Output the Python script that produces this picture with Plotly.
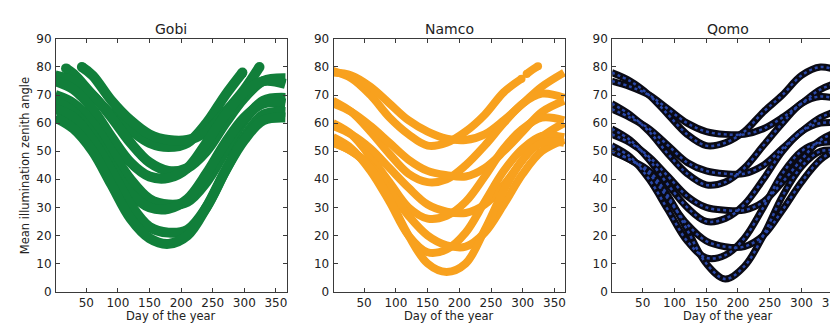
import plotly.graph_objects as go

# ---------------- data ----------------
DAYS = [1, 30, 60, 90, 120, 150, 180, 210, 240, 270, 300, 330, 365]

panel_titles = ["Gobi", "Namco", "Qomo"]

# Gobi: two truncated curves (own day grids) + six full-year curves
gobi_g1_days = [18, 30, 60, 90, 120, 150, 180, 210, 240, 270, 297]
gobi_g1 = [79.5, 77.5, 70, 63, 57.5, 53, 51.5, 53, 60, 70, 78]
gobi_g2_days = [43, 60, 90, 120, 150, 180, 210, 240, 270, 300, 324]
gobi_g2 = [80, 77, 68, 61, 56, 54, 54, 57, 64, 72, 80]
gobi_g3 = [77, 75, 70, 62, 53, 46, 43, 44, 50, 60, 69, 75, 76]
gobi_g4 = [75, 72, 65, 55, 46, 41, 40.5, 44, 53, 63, 71, 75, 74]
gobi_g5 = [70, 67, 60, 50, 40, 33, 31, 32, 39, 50, 61, 68, 69]
gobi_g6 = [68, 64, 56, 45, 35, 30, 29.5, 33, 42, 53, 62, 67, 67]
gobi_g7 = [65, 62, 54, 43, 31, 23, 21, 22, 30, 43, 55, 63, 64]
gobi_g8 = [62, 58, 50, 38, 26, 19, 17, 20, 30, 43, 54, 61, 62]

# Namco: first curve has a short gap near day 300 and stops at day 324
namco_n1a_days = [1, 30, 60, 90, 120, 150, 180, 210, 240, 270, 298]
namco_n1a = [78.5, 76, 70, 62, 56, 52, 53, 57, 63, 71, 75.8]
namco_n1b_days = [306, 315, 324]
namco_n1b = [77.5, 79, 80.3]
namco_n2 = [78, 77, 73, 67, 61, 57, 54.5, 54, 56, 61, 67, 73, 78]
namco_n3 = [68, 64, 57, 49, 42, 39, 40, 45, 52, 60, 67, 70.5, 69]
namco_n4 = [67, 64, 59, 53, 47, 43, 41.5, 41, 44, 50, 57, 64, 68]
namco_n5 = [60, 56, 48, 39, 30, 26, 27, 32, 41, 51, 58, 62, 61]
namco_n6 = [59, 56, 51, 44, 37, 31, 28.5, 28, 31, 38, 47, 55, 60]
namco_n7 = [55, 51, 43, 32, 20, 14, 15, 21, 32, 43, 51, 55.5, 55]
namco_n8 = [53, 50, 45, 36, 27, 20, 16.5, 16, 21, 31, 42, 50, 54]
namco_n9 = [53, 50, 44, 33, 20, 10, 7, 10, 22, 36, 47, 53, 53]

# Qomo: nine full-year curves
qomo_a = [78, 75, 70, 63, 56, 52, 53, 57, 64, 70, 77, 80, 78]
qomo_b = [75, 73, 70, 65, 60, 57, 56, 56, 58, 62, 67, 72, 75]
qomo_c = [67, 63, 57, 49, 42, 38, 39, 44, 52, 60, 67, 69.5, 68]
qomo_d = [65, 62, 58, 52, 46, 43, 42, 42, 45, 51, 57, 62, 65]
qomo_e = [58, 54, 47, 38, 30, 25, 26, 31, 40, 50, 57, 60, 60]
qomo_f = [56, 53, 48, 41, 34, 30, 29, 29, 32, 39, 47, 54, 57.6]
qomo_g = [52, 48, 40, 29, 18, 12, 13, 19, 30, 42, 50, 53, 53]
qomo_h = [50, 47, 42, 33, 24, 18, 16, 16, 20, 29, 39, 47, 52]
qomo_i = [50, 47, 43, 34, 22, 10, 4.5, 9, 20, 34, 44.5, 50, 50]

y_ticks = [0, 10, 20, 30, 40, 50, 60, 70, 80, 90]
x_ticks = [50, 100, 150, 200, 250, 300, 350]

# ---------------- styling ----------------
GREEN = "#117f3a"
ORANGE = "#f8a11e"
BLUE = "#2a48a8"
FONT = "DejaVu Sans"
W, H = 838, 326

gobi_curves = [(gobi_g1_days, gobi_g1), (gobi_g2_days, gobi_g2)] + \
    [(DAYS, c) for c in [gobi_g3, gobi_g4, gobi_g5, gobi_g6, gobi_g7, gobi_g8]]
namco_curves = [(namco_n1a_days, namco_n1a), (namco_n1b_days, namco_n1b)] + \
    [(DAYS, c) for c in [namco_n2, namco_n3, namco_n4, namco_n5, namco_n6,
                         namco_n7, namco_n8, namco_n9]]
qomo_curves = [(DAYS, c) for c in [qomo_a, qomo_b, qomo_c, qomo_d, qomo_e,
                                   qomo_f, qomo_g, qomo_h, qomo_i]]

fig = go.Figure()

def add_line(xs, ys, axis, color, width, dash="solid"):
    fig.add_trace(go.Scatter(
        x=xs, y=ys, mode="lines",
        line=dict(color=color, width=width, shape="spline", smoothing=1.0, dash=dash),
        hoverinfo="skip", showlegend=False,
        xaxis="x" + axis, yaxis="y" + axis))

def add_caps(xs, ys, axis, color, size):
    # round ends on the curves that stop inside the plot
    fig.add_trace(go.Scatter(
        x=[xs[0], xs[-1]], y=[ys[0], ys[-1]], mode="markers",
        marker=dict(color=color, size=size, line=dict(width=0)),
        hoverinfo="skip", showlegend=False,
        xaxis="x" + axis, yaxis="y" + axis))

for xs, ys in gobi_curves:
    add_line(xs, ys, "", GREEN, 10)
for xs, ys in gobi_curves[:2]:
    add_caps(xs, ys, "", GREEN, 10)
for xs, ys in namco_curves:
    add_line(xs, ys, "2", ORANGE, 8)
for xs, ys in namco_curves[:2]:
    add_caps(xs, ys, "2", ORANGE, 8)
for xs, ys in qomo_curves:
    add_line(xs, ys, "3", "#0a0a14", 7)
for xs, ys in qomo_curves:
    add_line(xs, ys, "3", BLUE, 2.5, dash="dot")

# panel geometry in pixels
panels_px = [(48, 279), (326, 558), (605, 837)]
top_px, bot_px = 25, 289
ydom = [(H - bot_px) / H, (H - top_px) / H]

axis_common = dict(
    showline=True, linecolor="#3a3a3a", linewidth=1, mirror="ticks",
    ticks="inside", ticklen=4, tickwidth=1, tickcolor="#3a3a3a",
    showgrid=False, zeroline=False,
    tickfont=dict(family=FONT, size=12, color="#222"),
)

layout = dict(
    width=W, height=H, margin=dict(l=0, r=0, t=0, b=0),
    paper_bgcolor="white", plot_bgcolor="white",
    font=dict(family=FONT, color="#222"),
    showlegend=False,
)

annotations = []
for i, (l, r) in enumerate(panels_px):
    sfx = "" if i == 0 else str(i + 1)
    xd = [l / W, r / W]
    layout["xaxis" + sfx] = dict(
        axis_common, domain=xd, range=[2, 367], tickvals=x_ticks,
        anchor="y" + sfx)
    layout["yaxis" + sfx] = dict(
        axis_common, domain=ydom, range=[0, 90], tickvals=y_ticks,
        anchor="x" + sfx, ticklabelstandoff=1)
    cx = (l + r) / 2 / W
    annotations.append(dict(
        text=panel_titles[i], x=cx, y=(H - 15) / H, xref="paper", yref="paper",
        showarrow=False, font=dict(family=FONT, size=14, color="#222"),
        xanchor="center", yanchor="middle"))
    annotations.append(dict(
        text="Day of the year", x=cx, y=(H - 315) / H, xref="paper", yref="paper",
        showarrow=False, font=dict(family=FONT, size=11.5, color="#222"),
        xanchor="center", yanchor="middle"))

annotations.append(dict(
    text="Mean illumination zenith angle", x=17 / W, y=(H - 157) / H,
    xref="paper", yref="paper", showarrow=False, textangle=-90,
    font=dict(family=FONT, size=11.5, color="#222"),
    xanchor="center", yanchor="middle"))

layout["annotations"] = annotations
fig.update_layout(**layout)

fig.write_html("out.html")
